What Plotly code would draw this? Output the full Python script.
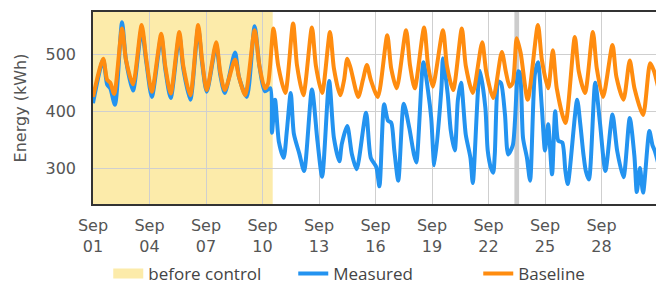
import pandas as pd
import plotly.graph_objects as go

START = "2019-09-01 00:00"

# Baseline (orange): hours since Sep 01 00:00 and energy (kWh)
baseline_hours = [0, 13, 18, 22, 27, 37, 42, 51, 62, 68, 75, 87, 92, 99, 110, 115, 124, 134, 139, 145,
                  157, 162, 168, 181, 186, 194, 206, 212, 219, 223, 230, 236, 245, 255, 260, 268, 279, 284,
                  292, 302, 307, 315, 320, 324, 328, 338, 344, 349, 354, 363, 375, 380, 387, 399, 404, 410,
                  422, 427, 433, 446, 451, 459, 470, 475, 484, 496, 501, 510, 521, 526, 531, 535, 540, 545,
                  554, 567, 572, 580, 586, 591, 602, 614, 619, 627, 637, 642, 650, 662, 667, 676, 684, 690,
                  701, 710, 715, 720]
baseline_kwh = [425, 492, 455, 450, 430, 545, 490, 447, 551, 490, 434, 536, 480, 431, 539, 480, 428, 551, 490, 437,
                521, 470, 437, 490, 460, 428, 542, 480, 440, 448, 545, 480, 432, 554, 480, 428, 547, 480,
                432, 539, 475, 428, 455, 492, 477, 425, 455, 481, 455, 425, 533, 475, 440, 542, 480, 440,
                547, 480, 443, 542, 480, 437, 545, 480, 432, 521, 470, 423, 504, 470, 443, 450, 528, 502,
                420, 551, 490, 440, 507, 440, 379, 530, 470, 432, 539, 475, 425, 516, 460, 420, 489, 440,
                393, 484, 470, 443]

# Measured (blue): hours since Sep 01 00:00 and energy (kWh)
measured_hours = [0, 13, 18, 22, 28, 37, 42, 51, 62, 68, 75, 87, 92, 99, 110, 115, 124, 134, 139, 145,
                  157, 162, 168, 181, 186, 196, 206, 212, 219, 226, 228, 232, 237, 243, 247, 252, 256, 263,
                  269, 279, 286, 292, 301, 307, 314, 317, 324, 330, 336, 348, 354, 361, 365, 371, 376, 380,
                  384, 389, 396, 403, 409, 412, 421, 427, 431, 435, 444, 446, 452, 456, 461, 465, 469, 475,
                  481, 484, 493, 500, 503, 507, 510, 512, 517, 520, 525, 529, 535, 542, 544, 548, 553, 557,
                  563, 567, 572, 576, 580, 585, 589, 593, 598, 602, 605, 617, 621, 625, 628, 632, 640, 646,
                  653, 662, 668, 676, 684, 690, 693, 697, 701, 709, 713, 716, 720]
measured_kwh = [414, 490, 447, 440, 411, 556, 490, 436, 543, 485, 425, 530, 475, 423, 532, 475, 420, 546, 485, 434,
                516, 465, 432, 503, 460, 425, 549, 480, 435, 440, 362, 420, 345, 318, 365, 432, 360, 325,
                295, 438, 348, 285, 453, 353, 312, 342, 374, 324, 298, 397, 318, 302, 268, 412, 383, 380,
                331, 278, 413, 371, 324, 310, 486, 435, 388, 305, 440, 493, 430, 365, 331, 420, 450, 359,
                318, 274, 471, 406, 331, 301, 292, 324, 452, 449, 394, 324, 340, 470, 467, 353, 318, 278,
                464, 486, 406, 331, 377, 289, 400, 348, 345, 295, 272, 420, 377, 324, 295, 280, 450, 380,
                295, 394, 330, 284, 388, 320, 258, 300, 257, 365, 340, 330, 310]

control_start_hour = 229          # end of "before control" period
outage_hours = [537, 543]         # grey marker period

tick_days = [0, 3, 6, 9, 12, 15, 18, 21, 24, 27]
y_ticks = [300, 400, 500]

SHADE = "#fcebaa"
base = pd.Timestamp(START)
to_t = lambda hs: [base + pd.Timedelta(hours=h) for h in hs]

fig = go.Figure()

fig.add_vrect(x0=base, x1=base + pd.Timedelta(hours=control_start_hour),
              fillcolor=SHADE, line_width=0, layer="below")
fig.add_vrect(x0=base + pd.Timedelta(hours=outage_hours[0]), x1=base + pd.Timedelta(hours=outage_hours[1]),
              fillcolor="#cccccc", line_width=0, layer="below")

# legend entry for the shaded period
fig.add_trace(go.Scatter(x=[None], y=[None], mode="lines", name="before control",
                         line=dict(color=SHADE, width=11)))
fig.add_trace(go.Scatter(x=to_t(measured_hours), y=measured_kwh, mode="lines", name="Measured",
                         line=dict(color="#2393f0", width=4, shape="spline", smoothing=0.7)))
fig.add_trace(go.Scatter(x=to_t(baseline_hours), y=baseline_kwh, mode="lines", name="Baseline",
                         line=dict(color="#ff8c0f", width=4, shape="spline", smoothing=0.7)))

# page body adds an 8px offset; the figure is sized so the plot lands where the reference has it
fig.update_layout(
    width=656, height=277,
    margin=dict(l=85, r=6, t=4, b=81, autoexpand=False),
    paper_bgcolor="white", plot_bgcolor="white",
    font=dict(family="DejaVu Sans", size=16, color="#555555"),
    showlegend=True,
    legend=dict(orientation="h", x=0.027, xanchor="left", y=-0.27, yanchor="top",
                font=dict(family="Open Sans", size=17, color="#444444"),
                bgcolor="rgba(0,0,0,0)", entrywidth=140),
)
fig.update_xaxes(
    type="date",
    range=[base, base + pd.Timedelta(days=30)],
    tickvals=[base + pd.Timedelta(days=d) for d in tick_days],
    tickformat="%b<br>%d",
    showgrid=True, gridcolor="#cfcfcf", gridwidth=1,
    showline=True, linecolor="#333333", linewidth=1.5, mirror=True,
    ticks="outside", ticklen=6, tickcolor="rgba(0,0,0,0)", zeroline=False, automargin=False,
)
fig.update_yaxes(
    range=[237, 574],
    tickvals=y_ticks,
    title=dict(text="Energy (kWh)", font=dict(size=16)),
    showgrid=True, gridcolor="#cfcfcf", gridwidth=1,
    showline=True, linecolor="#333333", linewidth=1.5, mirror=True,
    ticks="outside", ticklen=12, tickcolor="rgba(0,0,0,0)", zeroline=False, automargin=False,
)

fig.write_html("out.html")
